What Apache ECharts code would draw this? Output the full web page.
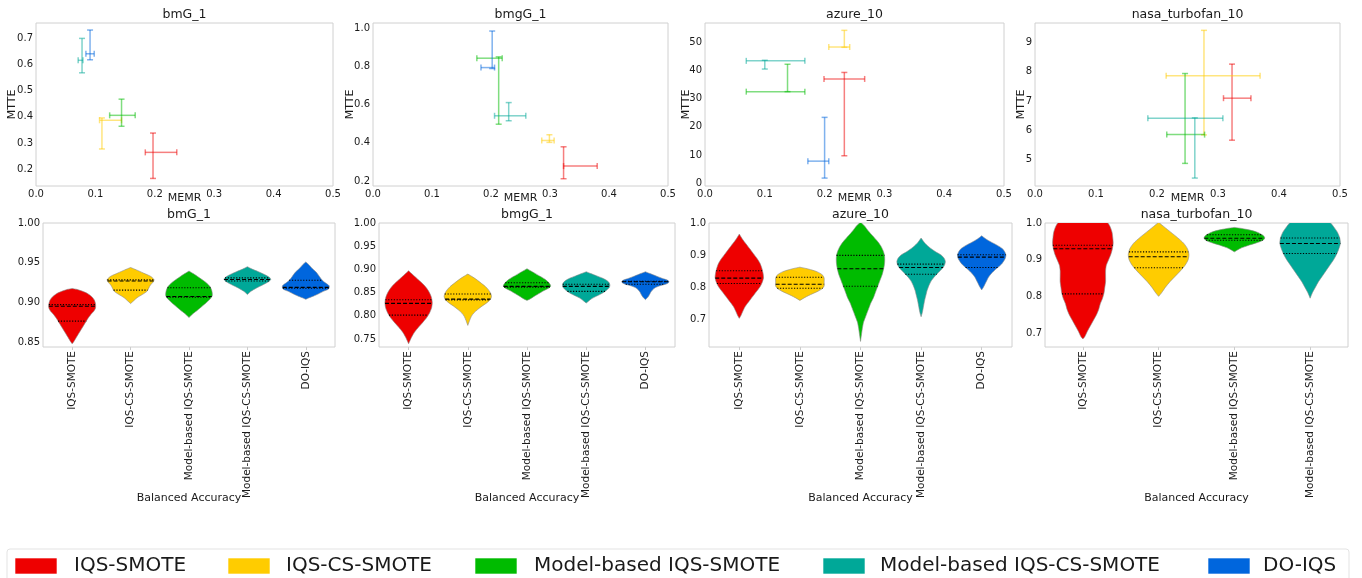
<!DOCTYPE html>
<html><head><meta charset="utf-8">
<script src="https://cdn.jsdelivr.net/npm/echarts@6/dist/echarts.min.js"></script>
<style>html,body{margin:0;padding:0;background:#fff}#c{width:1362px;height:578px}</style>
</head><body><div id="c"></div>
<script>
// ---------- data ----------
const methods = ['IQS-SMOTE','IQS-CS-SMOTE','Model-based IQS-SMOTE','Model-based IQS-CS-SMOTE','DO-IQS'];
const colors = ['#ee0000','#ffcc00','#00bb00','#00a898','#0066dd'];
const datasets = ['bmG_1','bmgG_1','azure_10','nasa_turbofan_10'];

// MEMR [centre, low, high] and MTTE [centre, low, high], one row per method
const memr_bmG_1 = [[0.197,0.184,0.237],[0.111,0.107,0.144],[0.144,0.124,0.167],[0.0775,0.071,0.079],[0.091,0.084,0.098]];
const mtte_bmG_1 = [[0.264,0.164,0.338],[0.387,0.277,0.396],[0.406,0.364,0.468],[0.617,0.569,0.701],[0.642,0.619,0.733]];
const memr_bmgG_1 = [[0.323,0.323,0.380],[0.299,0.286,0.307],[0.213,0.176,0.219],[0.230,0.206,0.259],[0.202,0.183,0.206]];
const mtte_bmgG_1 = [[0.278,0.212,0.379],[0.412,0.402,0.442],[0.842,0.497,0.849],[0.541,0.515,0.610],[0.793,0.788,0.984]];
const memr_azure_10 = [[0.233,0.199,0.267],[0.233,0.207,0.242],[0.138,0.069,0.167],[0.100,0.069,0.167],[0.200,0.172,0.207]];
const mtte_azure_10 = [[36.9,9.7,39.2],[48.2,48.1,54.1],[32.4,32.4,42.1],[43.3,40.4,43.5],[7.8,1.8,23.3]];
const memr_nasa = [[0.323,0.309,0.354],[0.277,0.215,0.369],[0.246,0.216,0.278],[0.262,0.185,0.308]];
const mtte_nasa = [[7.10,5.67,8.26],[7.86,5.85,9.41],[5.86,4.88,7.94],[6.42,4.38,6.43]];

// tick labels
const memrTicks = [0,0.1,0.2,0.3,0.4,0.5];
const mtteTicks_bmG_1 = [0.2,0.3,0.4,0.5,0.6,0.7];
const mtteTicks_bmgG_1 = [0.2,0.4,0.6,0.8,1.0];
const mtteTicks_azure_10 = [0,10,20,30,40,50];
const mtteTicks_nasa = [5,6,7,8,9];
const baTicks_bmG_1 = [0.85,0.90,0.95,1.00];
const baTicks_bmgG_1 = [0.75,0.80,0.85,0.90,0.95,1.00];
const baTicks_azure_10 = [0.7,0.8,0.9,1.0];
const baTicks_nasa = [0.7,0.8,0.9,1.0];

// violin outlines: [balanced accuracy, half width in category units], top to bottom
const shapes_bmG_1 = [
 [[0.9176,0],[0.9165,0.08],[0.914,0.18],[0.911,0.27],[0.907,0.34],[0.903,0.38],[0.898,0.40],[0.893,0.40],[0.889,0.37],[0.885,0.32],[0.880,0.27],[0.874,0.22],[0.868,0.17],[0.862,0.12],[0.856,0.07],[0.851,0.03],[0.848,0]],
 [[0.944,0],[0.941,0.1],[0.937,0.22],[0.933,0.34],[0.929,0.40],[0.926,0.39],[0.922,0.34],[0.918,0.31],[0.914,0.28],[0.910,0.20],[0.906,0.11],[0.902,0.05],[0.8986,0]],
 [[0.9396,0],[0.936,0.08],[0.932,0.16],[0.928,0.24],[0.924,0.31],[0.920,0.36],[0.915,0.39],[0.909,0.40],[0.905,0.37],[0.900,0.30],[0.895,0.22],[0.890,0.14],[0.886,0.07],[0.881,0]],
 [[0.945,0],[0.942,0.08],[0.939,0.18],[0.935,0.30],[0.9315,0.38],[0.929,0.40],[0.926,0.36],[0.922,0.26],[0.918,0.15],[0.914,0.06],[0.910,0]],
 [[0.951,0],[0.947,0.06],[0.942,0.12],[0.938,0.18],[0.933,0.23],[0.929,0.27],[0.925,0.33],[0.921,0.40],[0.917,0.39],[0.914,0.30],[0.911,0.22],[0.908,0.13],[0.906,0.06],[0.904,0]]
];
const shapes_bmgG_1 = [
 [[0.897,0],[0.890,0.06],[0.883,0.12],[0.876,0.18],[0.869,0.24],[0.862,0.29],[0.855,0.33],[0.848,0.36],[0.840,0.385],[0.829,0.40],[0.818,0.39],[0.808,0.36],[0.797,0.31],[0.786,0.24],[0.776,0.17],[0.765,0.10],[0.754,0.05],[0.740,0]],
 [[0.890,0],[0.884,0.08],[0.877,0.16],[0.870,0.23],[0.863,0.30],[0.856,0.35],[0.849,0.385],[0.842,0.40],[0.835,0.38],[0.828,0.32],[0.821,0.24],[0.813,0.16],[0.806,0.10],[0.799,0.06],[0.790,0.03],[0.7795,0]],
 [[0.9016,0],[0.897,0.06],[0.892,0.13],[0.886,0.21],[0.880,0.29],[0.874,0.35],[0.868,0.39],[0.864,0.40],[0.860,0.37],[0.854,0.28],[0.848,0.20],[0.842,0.12],[0.837,0.06],[0.8333,0]],
 [[0.895,0],[0.891,0.08],[0.886,0.18],[0.881,0.28],[0.876,0.35],[0.871,0.39],[0.866,0.40],[0.861,0.39],[0.856,0.35],[0.851,0.30],[0.846,0.23],[0.841,0.15],[0.836,0.08],[0.8276,0]],
 [[0.895,0],[0.891,0.08],[0.886,0.18],[0.881,0.28],[0.877,0.37],[0.873,0.40],[0.869,0.36],[0.865,0.25],[0.861,0.17],[0.856,0.12],[0.851,0.09],[0.846,0.07],[0.840,0.04],[0.835,0]]
];
const shapes_azure_10 = [
 [[0.9655,0],[0.950,0.05],[0.935,0.11],[0.920,0.17],[0.905,0.23],[0.890,0.29],[0.875,0.34],[0.860,0.37],[0.845,0.39],[0.830,0.40],[0.815,0.38],[0.800,0.34],[0.785,0.28],[0.770,0.22],[0.755,0.16],[0.740,0.10],[0.725,0.06],[0.712,0.03],[0.702,0]],
 [[0.862,0],[0.858,0.1],[0.853,0.2],[0.848,0.28],[0.842,0.34],[0.836,0.38],[0.828,0.40],[0.815,0.40],[0.803,0.40],[0.795,0.37],[0.787,0.30],[0.780,0.22],[0.773,0.14],[0.766,0.07],[0.758,0]],
 [[1.003,0],[0.990,0.07],[0.975,0.13],[0.960,0.20],[0.945,0.27],[0.930,0.33],[0.915,0.37],[0.900,0.395],[0.885,0.40],[0.870,0.395],[0.855,0.38],[0.840,0.36],[0.825,0.33],[0.810,0.30],[0.795,0.27],[0.780,0.24],[0.765,0.21],[0.750,0.17],[0.735,0.14],[0.720,0.11],[0.705,0.08],[0.690,0.05],[0.670,0.03],[0.650,0.015],[0.630,0]],
 [[0.953,0],[0.940,0.05],[0.925,0.13],[0.910,0.24],[0.900,0.33],[0.890,0.38],[0.880,0.40],[0.870,0.39],[0.860,0.36],[0.850,0.31],[0.840,0.26],[0.830,0.21],[0.820,0.17],[0.805,0.13],[0.790,0.10],[0.775,0.08],[0.760,0.06],[0.740,0.04],[0.720,0.02],[0.707,0]],
 [[0.960,0],[0.950,0.07],[0.940,0.16],[0.930,0.26],[0.920,0.34],[0.910,0.38],[0.900,0.40],[0.890,0.39],[0.880,0.36],[0.870,0.32],[0.860,0.26],[0.850,0.20],[0.840,0.15],[0.830,0.11],[0.815,0.07],[0.800,0.03],[0.791,0]]
];
const shapes_nasa = [
 [[1.03,0],[1.02,0.2],[1.00,0.33],[0.990,0.36],[0.975,0.385],[0.960,0.395],[0.945,0.40],[0.930,0.39],[0.915,0.37],[0.900,0.34],[0.885,0.31],[0.870,0.30],[0.855,0.30],[0.840,0.30],[0.825,0.29],[0.810,0.28],[0.795,0.26],[0.780,0.23],[0.765,0.21],[0.750,0.18],[0.735,0.14],[0.720,0.10],[0.705,0.06],[0.690,0.025],[0.684,0]],
 [[1.002,0],[0.990,0.07],[0.975,0.16],[0.960,0.25],[0.945,0.33],[0.930,0.38],[0.915,0.40],[0.900,0.39],[0.885,0.35],[0.870,0.29],[0.855,0.22],[0.840,0.15],[0.825,0.09],[0.810,0.04],[0.800,0]],
 [[0.988,0],[0.985,0.10],[0.980,0.22],[0.975,0.30],[0.970,0.35],[0.965,0.385],[0.960,0.40],[0.955,0.39],[0.950,0.35],[0.945,0.28],[0.940,0.20],[0.935,0.13],[0.930,0.07],[0.9214,0]],
 [[1.03,0],[1.02,0.12],[1.01,0.2],[1.00,0.27],[0.990,0.31],[0.975,0.36],[0.960,0.39],[0.945,0.40],[0.930,0.38],[0.915,0.35],[0.900,0.31],[0.885,0.26],[0.870,0.21],[0.855,0.16],[0.840,0.11],[0.825,0.07],[0.810,0.03],[0.795,0]]
];
// quartiles [Q1, median, Q3]
const quart_bmG_1 = [[0.8766,0.8952,0.8973],[0.9155,0.927,0.9285],[0.9065,0.9075,0.9185],[0.927,0.929,0.931],[0.918,0.919,0.928]];
const quart_bmgG_1 = [[0.8017,0.827,0.8348],[0.8345,0.836,0.847],[0.862,0.8635,0.8714],[0.8527,0.8635,0.868],[0.868,0.8735,0.8745]];
const quart_azure_10 = [[0.811,0.8276,0.8506],[0.7962,0.8088,0.8307],[0.8025,0.857,0.8987],[0.84,0.861,0.8715],[0.861,0.8934,0.9007]];
const quart_nasa = [[0.8067,0.930,0.9395],[0.878,0.908,0.9214],[0.953,0.9585,0.968],[0.917,0.944,0.9593]];

// ---------- chart ----------
const FONT = 'DejaVu Sans';
const TXT = '#1a1a1a';
const topPanels = [
  {memr: memr_bmG_1, mtte: mtte_bmG_1, ticks: mtteTicks_bmG_1, min: 0.135, max: 0.76, dec: 1, left: 36, width: 297, gap: 18},
  {memr: memr_bmgG_1, mtte: mtte_bmgG_1, ticks: mtteTicks_bmgG_1, min: 0.174, max: 1.026, dec: 1, left: 373, width: 295, gap: 17},
  {memr: memr_azure_10, mtte: mtte_azure_10, ticks: mtteTicks_azure_10, min: -1, max: 56.7, dec: 0, left: 705, width: 299, gap: 13},
  {memr: memr_nasa, mtte: mtte_nasa, ticks: mtteTicks_nasa, min: 4.11, max: 9.66, dec: 0, left: 1035, width: 305, gap: 8}
];
const botPanels = [
  {shapes: shapes_bmG_1, quart: quart_bmG_1, ticks: baTicks_bmG_1, min: 0.844, max: 1.0, dec: 2, left: 43, width: 292},
  {shapes: shapes_bmgG_1, quart: quart_bmgG_1, ticks: baTicks_bmgG_1, min: 0.733, max: 1.0, dec: 2, left: 379, width: 296},
  {shapes: shapes_azure_10, quart: quart_azure_10, ticks: baTicks_azure_10, min: 0.6125, max: 1.0, dec: 1, left: 709, width: 303},
  {shapes: shapes_nasa, quart: quart_nasa, ticks: baTicks_nasa, min: 0.662, max: 1.0, dec: 1, left: 1045, width: 303}
];

function interpW(prof, q) {
  for (let k = 0; k < prof.length - 1; k++) {
    const [y1, w1] = prof[k], [y2, w2] = prof[k + 1];
    if ((q <= y1 && q >= y2)) {
      const t = (y1 === y2) ? 0 : (q - y1) / (y2 - y1);
      return w1 + t * (w2 - w1);
    }
  }
  return 0;
}

const grid = [], xAxis = [], yAxis = [], series = [], title = [];
const lbl = {fontFamily: FONT, color: TXT};

topPanels.forEach((p, k) => {
  grid.push({left: p.left, top: 23, width: p.width, height: 163, show: true, borderColor: '#d0d0d0', borderWidth: 1, backgroundColor: 'transparent', outerBoundsMode: 'none', containLabel: false});
  xAxis.push({type: 'value', gridIndex: k, min: 0, max: 0.5, name: 'MEMR', nameLocation: 'middle', nameGap: 7, nameMoveOverlap: false,
    nameTextStyle: Object.assign({fontSize: 11}, lbl),
    axisLine: {show: false}, axisTick: {show: false}, splitLine: {show: false},
    axisLabel: Object.assign({fontSize: 10, margin: 3, customValues: memrTicks, formatter: v => v.toFixed(1)}, lbl)});
  yAxis.push({type: 'value', gridIndex: k, min: p.min, max: p.max, name: 'MTTE', nameLocation: 'middle', nameGap: p.gap, nameMoveOverlap: false,
    nameTextStyle: Object.assign({fontSize: 11}, lbl),
    axisLine: {show: false}, axisTick: {show: false}, splitLine: {show: false},
    axisLabel: Object.assign({fontSize: 10, margin: 3, customValues: p.ticks, formatter: v => v.toFixed(p.dec)}, lbl)});
  const memr = p.memr, mtte = p.mtte;
  series.push({type: 'custom', xAxisIndex: k, yAxisIndex: k, clip: true,
    data: memr.map((m, i) => [m[0], mtte[i][0], i]),
    encode: {x: 0, y: 1},
    renderItem: (params, api) => {
      const i = api.value(2);
      const m = memr[i], t = mtte[i];
      const st = {stroke: colors[i], lineWidth: 1.5, opacity: 0.5};
      const a = api.coord([m[0], t[1]]), b = api.coord([m[0], t[2]]);
      const l = api.coord([m[1], t[0]]), r = api.coord([m[2], t[0]]);
      const cap = 3;
      const L = (x1, y1, x2, y2) => ({type: 'line', shape: {x1, y1, x2, y2}, style: st});
      return {type: 'group', children: [
        L(a[0], a[1], b[0], b[1]), L(a[0] - cap, a[1], a[0] + cap, a[1]), L(b[0] - cap, b[1], b[0] + cap, b[1]),
        L(l[0], l[1], r[0], r[1]), L(l[0], l[1] - cap, l[0], l[1] + cap), L(r[0], r[1] - cap, r[0], r[1] + cap)
      ]};
    }});
  title.push({text: datasets[k], left: p.left + p.width / 2, top: 8, padding: 0, textAlign: 'center',
    textStyle: {fontFamily: FONT, fontSize: 12.5, fontWeight: 'normal', color: TXT}});
});

botPanels.forEach((p, j) => {
  const k = j + 4;
  const n = p.shapes.length;
  const idx = p.shapes.map((_, i) => i);
  grid.push({left: p.left, top: 223, width: p.width, height: 124, show: true, borderColor: '#d0d0d0', borderWidth: 1, backgroundColor: 'transparent', outerBoundsMode: 'none', containLabel: false});
  xAxis.push({type: 'value', gridIndex: k, min: -0.5, max: n - 0.5, name: 'Balanced Accuracy', nameLocation: 'middle', nameGap: 146, nameMoveOverlap: false,
    nameTextStyle: Object.assign({fontSize: 11}, lbl),
    axisLine: {show: false}, splitLine: {show: false},
    axisTick: {show: true, customValues: idx, length: 3, lineStyle: {color: '#cccccc'}},
    axisLabel: Object.assign({fontSize: 10.5, margin: 4, rotate: 90, customValues: idx, formatter: v => methods[Math.round(v)]}, lbl)});
  yAxis.push({type: 'value', gridIndex: k, min: p.min, max: p.max,
    axisLine: {show: false}, axisTick: {show: false}, splitLine: {show: false},
    axisLabel: Object.assign({fontSize: 10, margin: 3, customValues: p.ticks, formatter: v => v.toFixed(p.dec)}, lbl)});
  const shapes = p.shapes, quart = p.quart;
  series.push({type: 'custom', xAxisIndex: k, yAxisIndex: k, clip: true,
    data: quart.map((q, i) => [i, q[1]]),
    encode: {x: 0, y: 1},
    renderItem: (params, api) => {
      const i = params.dataIndex;
      const prof = shapes[i];
      const right = prof.map(([y, w]) => api.coord([i + w, y]));
      const left = prof.slice().reverse().map(([y, w]) => api.coord([i - w, y]));
      const children = [{type: 'polygon', shape: {points: right.concat(left), smooth: 0.25},
        style: {fill: colors[i], stroke: '#8c8c8c', lineWidth: 0.6}}];
      quart[i].forEach((q, qi) => {
        const w = interpW(prof, q);
        const a = api.coord([i - w, q]), b = api.coord([i + w, q]);
        children.push({type: 'line', shape: {x1: a[0], y1: a[1], x2: b[0], y2: b[1]},
          style: {stroke: '#000', lineWidth: 1.1, lineDash: qi === 1 ? [4, 2] : [1.2, 1.6]}});
      });
      return {type: 'group', children};
    }});
  title.push({text: datasets[j], left: p.left + p.width / 2, top: 208, padding: 0, textAlign: 'center',
    textStyle: {fontFamily: FONT, fontSize: 12.5, fontWeight: 'normal', color: TXT}});
});

// legend drawn as graphic
const legRectX = [15, 228, 475, 823, 1208];
const legTextX = [74, 286, 534, 880, 1263];
const graphic = [{type: 'rect', shape: {x: 7, y: 549, width: 1342, height: 45, r: 3}, style: {fill: '#fff', stroke: '#e3e3e3', lineWidth: 1}, z: 0}];
methods.forEach((m, i) => {
  graphic.push({type: 'rect', shape: {x: legRectX[i], y: 558, width: 42, height: 16}, style: {fill: colors[i], stroke: 'rgba(255,255,255,0.6)', lineWidth: 1}, z: 1});
  graphic.push({type: 'text', x: legTextX[i], y: 566, style: {text: m, fontFamily: FONT, fontSize: 20, fill: TXT, textAlign: 'left', textVerticalAlign: 'middle', verticalAlign: 'middle'}, z: 1});
});

const chart = echarts.init(document.getElementById('c'));
chart.setOption({animation: false, backgroundColor: '#fff', textStyle: {fontFamily: FONT}, title, grid, xAxis, yAxis, series, graphic});
</script></body></html>
